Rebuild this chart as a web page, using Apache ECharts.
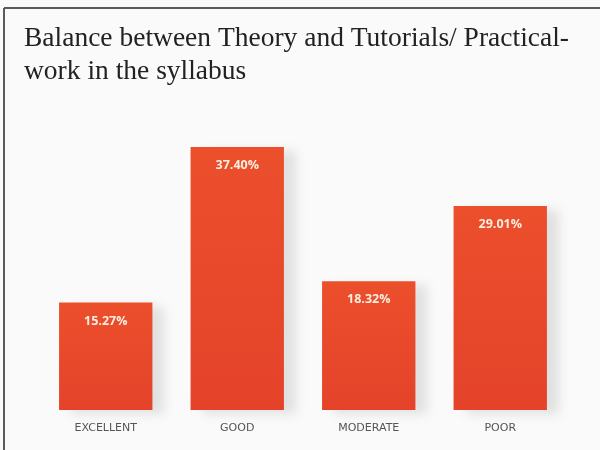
<!DOCTYPE html>
<html>
<head>
<meta charset="utf-8">
<script src="https://cdn.jsdelivr.net/npm/echarts@6/dist/echarts.min.js"></script>
<style>
html,body{margin:0;padding:0;background:#fbfafa;}
#c{width:600px;height:450px;}
</style>
</head>
<body>
<div id="c"></div>
<script>
const categories = ['EXCELLENT', 'GOOD', 'MODERATE', 'POOR'];
const values = [15.27, 37.40, 18.32, 29.01];
const titleLines = ['Balance between Theory and Tutorials/ Practical-', 'work in the syllabus'];

const chart = echarts.init(document.getElementById('c'), null, {renderer: 'canvas'});
chart.setOption({
  backgroundColor: '#fbfafa',
  animation: false,
  title: {
    text: titleLines.join('\n'),
    left: 19,
    top: 17,
    textStyle: {
      fontFamily: 'Liberation Serif',
      fontWeight: 'normal',
      fontSize: 27.5,
      lineHeight: 33,
      color: '#222'
    }
  },
  graphic: [
    {type: 'line', shape: {x1: 4, y1: 8, x2: 600, y2: 8}, style: {stroke: '#5a5a5a', lineWidth: 2}},
    {type: 'line', shape: {x1: 4, y1: 8, x2: 4, y2: 450}, style: {stroke: '#5a5a5a', lineWidth: 2}}
  ],
  grid: {left: 40, right: 34, top: 147, bottom: 40, containLabel: false},
  xAxis: {
    type: 'category',
    data: categories,
    axisLine: {show: false},
    axisTick: {show: false},
    axisLabel: {
      color: '#555',
      fontFamily: 'DejaVu Sans',
      fontSize: 11,
      margin: 13
    }
  },
  yAxis: {
    type: 'value',
    min: 0,
    max: 37.4,
    show: false,
    splitLine: {show: false}
  },
  series: [{
    type: 'bar',
    data: values,
    barCategoryGap: '29%',
    itemStyle: {
      color: {
        type: 'linear', x: 0, y: 0, x2: 0, y2: 1,
        colorStops: [{offset: 0, color: '#ec4f2c'}, {offset: 1, color: '#e4432a'}]
      },
      shadowColor: 'rgba(0,0,0,0.1)',
      shadowBlur: 10,
      shadowOffsetX: 12,
      shadowOffsetY: 4
    },
    label: {
      show: true,
      position: 'insideTop',
      distance: 12,
      formatter: p => p.value.toFixed(2) + '%',
      color: '#fbeee0',
      fontFamily: 'Open Sans',
      fontWeight: 'bold',
      fontSize: 12.5
    }
  }]
});
</script>
</body>
</html>
